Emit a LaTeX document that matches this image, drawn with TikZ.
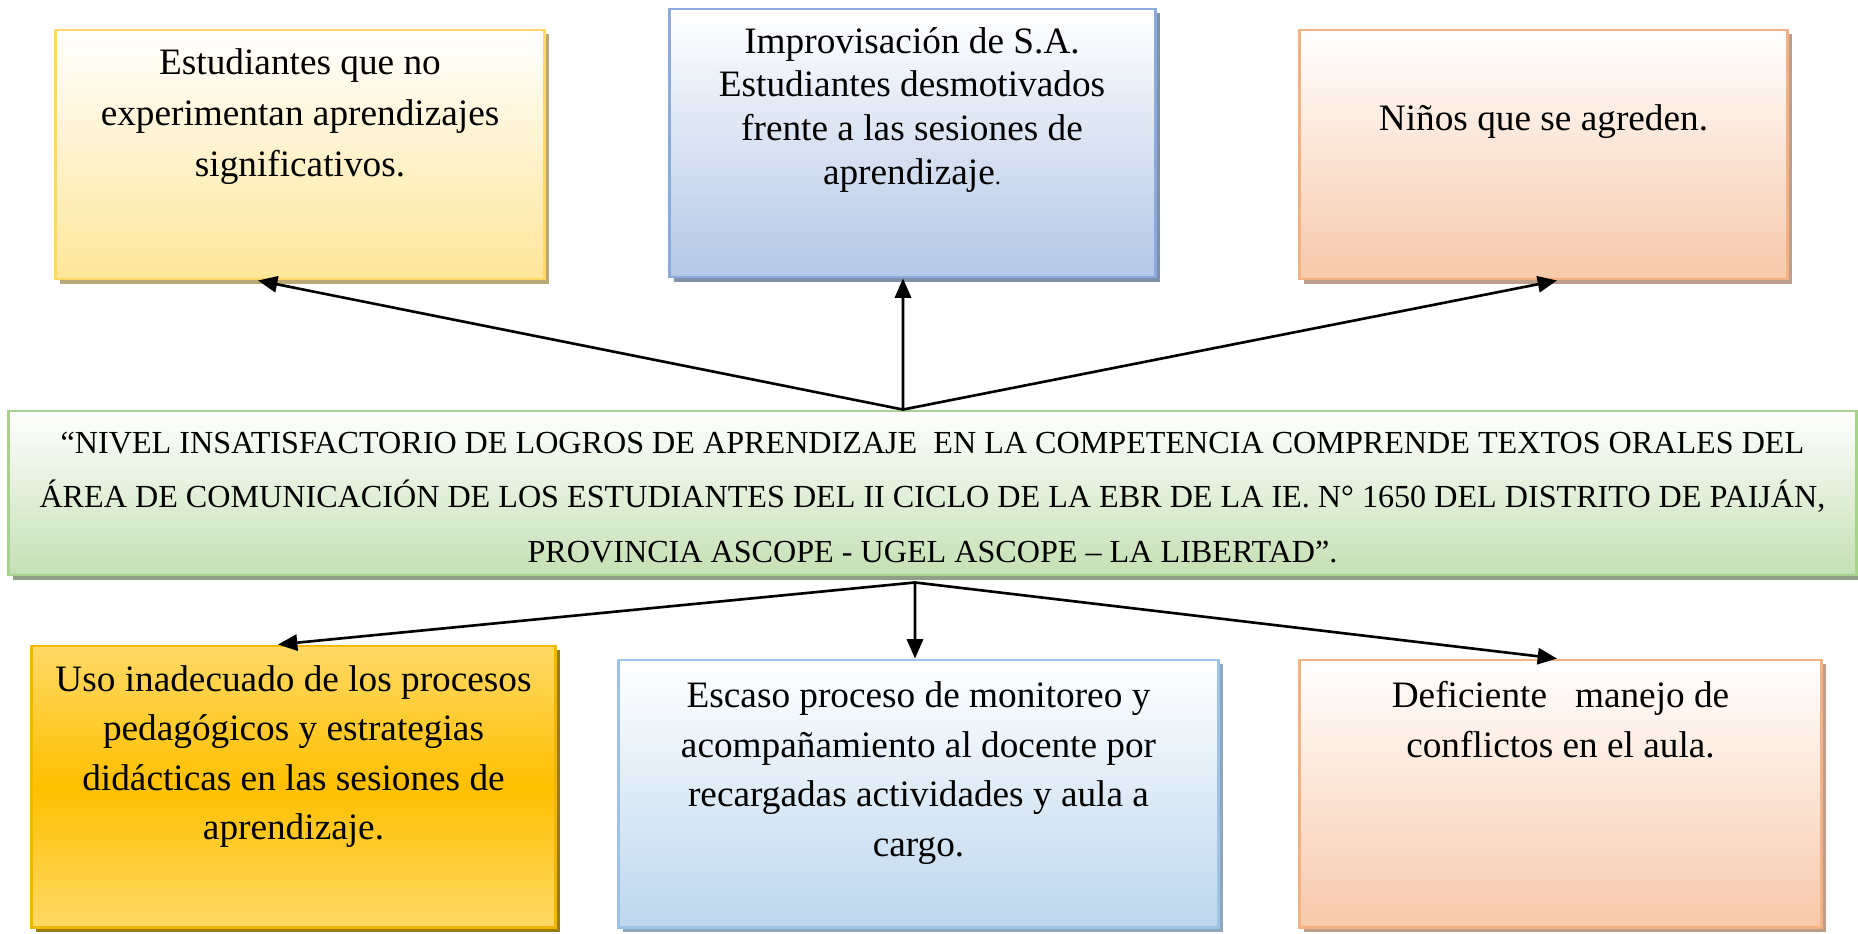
\documentclass[tikz,border=0pt]{standalone}
\usepackage{fontspec}
\setmainfont{Liberation Serif}
\usetikzlibrary{arrows.meta,shadows}
\definecolor{ybot}{HTML}{FFE699}
\definecolor{yline}{HTML}{FFD966}
\definecolor{ysh}{HTML}{B9A878}
\definecolor{bbot}{HTML}{B4C7E7}
\definecolor{bline}{HTML}{8EA9DB}
\definecolor{bsh}{HTML}{8091AC}
\definecolor{obot}{HTML}{F7C9AA}
\definecolor{oline}{HTML}{F4B183}
\definecolor{osh}{HTML}{BC9E8A}
\definecolor{gbot}{HTML}{C5E0B4}
\definecolor{gline}{HTML}{A9D18E}
\definecolor{gsh}{HTML}{8FA084}
\definecolor{goldA}{HTML}{FFD966}
\definecolor{goldB}{HTML}{FFC000}
\definecolor{goldline}{HTML}{F2B800}
\definecolor{goldsh}{HTML}{9C7C10}
\definecolor{lbbot}{HTML}{BDD7EE}
\definecolor{lbline}{HTML}{9DC3E6}
\definecolor{lbsh}{HTML}{8EA6BE}
\tikzset{
  boxbase/.style={rectangle, draw, line width=0.8pt, inner sep=0pt},
  shad/.style={drop shadow={shadow xshift=0.045cm, shadow yshift=-0.045cm, fill=#1, opacity=1}},
  txt/.style={align=center, inner sep=0pt, anchor=north},
  arr/.style={-{Triangle[length=5.5pt,width=4.6pt]}, line width=0.75pt},
}
\begin{document}
\begin{tikzpicture}[x=0.01cm,y=-0.01cm]
\useasboundingbox (0,0) rectangle (1858,933);
% top row
\node[boxbase, shad=ysh, draw=yline, top color=white, bottom color=ybot,
  minimum width=4.88cm, minimum height=2.49cm] (e1) at (300,154.5) {};
\node[boxbase, shad=bsh, draw=bline, top color=white, bottom color=bbot,
  minimum width=4.85cm, minimum height=2.68cm] (e2) at (912.5,143) {};
\node[boxbase, shad=osh, draw=oline, top color=white, bottom color=obot,
  minimum width=4.87cm, minimum height=2.49cm] (e3) at (1543.5,154.5) {};
% central problem
\node[boxbase, shad=gsh, draw=gline, top color=white, bottom color=gbot,
  minimum width=18.47cm, minimum height=1.64cm] (prob) at (932.5,493) {};
% bottom row
\node[boxbase, shad=goldsh, draw=goldline, top color=goldA, bottom color=goldA, middle color=goldB,
  minimum width=5.23cm, minimum height=2.81cm] (c1) at (293.5,786.5) {};
\node[boxbase, shad=lbsh, draw=lbline, top color=white, bottom color=lbbot,
  minimum width=5.99cm, minimum height=2.67cm] (c2) at (918.5,793.5) {};
\node[boxbase, shad=osh, draw=oline, top color=white, bottom color=obot,
  minimum width=5.21cm, minimum height=2.67cm] (c3) at (1560.5,793.5) {};
% texts
\node[txt, font=\fontsize{10.6}{14.5}\selectfont] (e1t) at (300,38)
  {\strut Estudiantes que no\\experimentan aprendizajes\\significativos.};
\node[txt, font=\fontsize{10.6}{12.4}\selectfont] (e2t) at (912,22)
  {\strut Improvisación de S.A.\\Estudiantes desmotivados\\frente a las sesiones de\\aprendizaje{\fontsize{7}{7}\selectfont .}};
\node[txt, font=\fontsize{10.6}{14.5}\selectfont] (e3t) at (1543.5,94)
  {\strut Niños que se agreden.};
\node[txt, font=\fontsize{9.14}{15.6}\selectfont] (probt) at (932.5,414)
  {\strut “NIVEL INSATISFACTORIO DE LOGROS DE APRENDIZAJE\ \ EN LA COMPETENCIA COMPRENDE TEXTOS ORALES DEL\\ÁREA DE COMUNICACIÓN DE LOS ESTUDIANTES DEL II CICLO DE LA EBR DE LA IE. N° 1650 DEL DISTRITO DE PAIJÁN,\\PROVINCIA ASCOPE - UGEL ASCOPE – LA LIBERTAD”.};
\node[txt, font=\fontsize{10.6}{14}\selectfont] (c1t) at (293.5,656.5)
  {\strut Uso inadecuado de los procesos\\pedagógicos y estrategias\\didácticas en las sesiones de\\aprendizaje.};
\node[txt, font=\fontsize{10.6}{14.1}\selectfont] (c2t) at (918.5,672)
  {\strut Escaso proceso de monitoreo y\\acompañamiento al docente por\\recargadas actividades y aula a\\cargo.};
\node[txt, font=\fontsize{10.6}{14.1}\selectfont] (c3t) at (1560.5,672)
  {\strut Deficiente\ \ \ manejo de\\conflictos en el aula.};
% connectors
\coordinate (ptop) at ([xshift=-0.295cm]prob.north);
\coordinate (pbot) at ([xshift=-0.175cm,yshift=-0.06cm]prob.south);
\draw[arr] (ptop) -- ([xshift=-0.42cm]e1.south);
\draw[arr] (ptop) -- ([xshift=-0.095cm]e2.south);
\draw[arr] (ptop) -- ([xshift=0.135cm]e3.south);
\draw[arr] (pbot) -- ([xshift=-0.155cm]c1.north);
\draw[arr] (pbot) -- ([xshift=-0.035cm]c2.north);
\draw[arr] (pbot) -- ([xshift=-0.035cm]c3.north);
\end{tikzpicture}
\end{document}
